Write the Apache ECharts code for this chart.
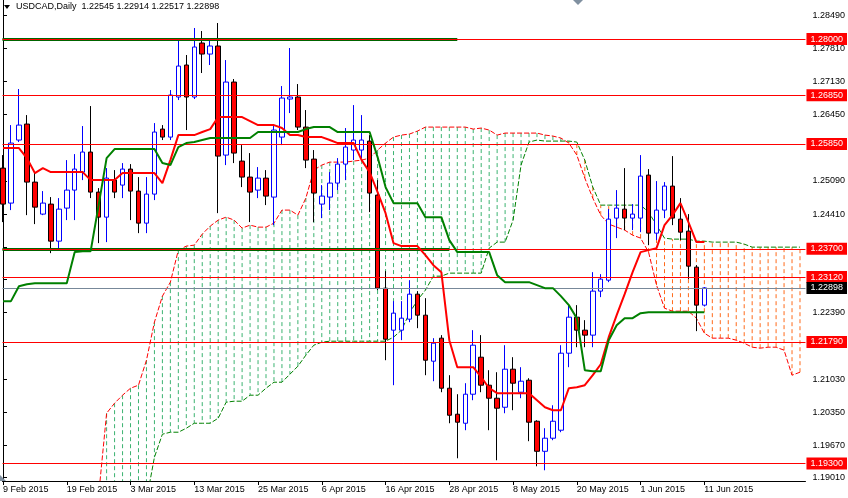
<!DOCTYPE html>
<html><head><meta charset="utf-8">
<script src="https://cdn.jsdelivr.net/npm/echarts@6/dist/echarts.min.js"></script>
<style>html,body{margin:0;padding:0;background:#fff}#c{width:848px;height:498px}</style>
</head><body><div id="c"></div>
<script>
const symbol = 'USDCAD', period = 'Daily';
const FONT = 'Liberation Sans';

const dates = [
'9 Feb 2015','10 Feb 2015','11 Feb 2015','12 Feb 2015','13 Feb 2015','16 Feb 2015','17 Feb 2015','18 Feb 2015','19 Feb 2015','20 Feb 2015',
'23 Feb 2015','24 Feb 2015','25 Feb 2015','26 Feb 2015','27 Feb 2015','2 Mar 2015','3 Mar 2015','4 Mar 2015','5 Mar 2015','6 Mar 2015',
'9 Mar 2015','10 Mar 2015','11 Mar 2015','12 Mar 2015','13 Mar 2015','16 Mar 2015','17 Mar 2015','18 Mar 2015','19 Mar 2015','20 Mar 2015',
'23 Mar 2015','24 Mar 2015','25 Mar 2015','26 Mar 2015','27 Mar 2015','30 Mar 2015','31 Mar 2015','1 Apr 2015','2 Apr 2015','3 Apr 2015',
'6 Apr 2015','7 Apr 2015','8 Apr 2015','9 Apr 2015','10 Apr 2015','13 Apr 2015','14 Apr 2015','15 Apr 2015','16 Apr 2015','17 Apr 2015',
'20 Apr 2015','21 Apr 2015','22 Apr 2015','23 Apr 2015','24 Apr 2015','27 Apr 2015','28 Apr 2015','29 Apr 2015','30 Apr 2015','1 May 2015',
'4 May 2015','5 May 2015','6 May 2015','7 May 2015','8 May 2015','11 May 2015','12 May 2015','13 May 2015','14 May 2015','15 May 2015',
'18 May 2015','19 May 2015','20 May 2015','21 May 2015','22 May 2015','25 May 2015','26 May 2015','27 May 2015','28 May 2015','29 May 2015',
'1 Jun 2015','2 Jun 2015','3 Jun 2015','4 Jun 2015','5 Jun 2015','8 Jun 2015','9 Jun 2015','10 Jun 2015','11 Jun 2015','12 Jun 2015',
'15 Jun 2015','16 Jun 2015','17 Jun 2015','18 Jun 2015','19 Jun 2015','22 Jun 2015','23 Jun 2015','24 Jun 2015','25 Jun 2015','26 Jun 2015',
'29 Jun 2015'];

const xTicks = [0,8,16,24,32,40,48,56,64,72,80,88];
const yTicks = [1.19010,1.19670,1.20350,1.21030,1.21710,1.22390,1.23070,1.23740,1.24410,1.25090,1.25770,1.26450,1.27130,1.27810,1.28490];

const open = [1.25354,1.24637,1.25929,1.26257,1.25067,1.24411,1.24616,1.23857,1.24534,1.24903,
1.25272,1.25683,1.24862,1.24349,1.25108,1.25006,1.25334,1.24883,1.24226,1.24821,
1.26154,1.25990,1.26811,1.27467,1.26811,1.27918,1.27692,1.27857,1.25621,1.27118,
1.25498,1.25170,1.24903,1.25149,1.24760,1.25990,1.26770,1.26811,1.26195,1.25539,
1.24616,1.24760,1.25047,1.25436,1.25724,1.25724,1.25908,1.24801,1.22893,1.22032,
1.22032,1.22257,1.22770,1.22339,1.21396,1.21868,1.20842,1.20309,1.20124,1.20719,
1.21478,1.20904,1.20637,1.20452,1.21232,1.20760,1.21006,1.20165,1.19549,1.19817,
1.19981,1.21560,1.22298,1.22032,1.21930,1.22832,1.23057,1.24329,1.24513,1.24329,
1.24329,1.25211,1.24021,1.24493,1.24985,1.24308,1.24062,1.23324,1.22545];
const high = [1.25621,1.26236,1.26975,1.26441,1.25272,1.24883,1.24760,1.24739,1.25518,1.25641,
1.26216,1.26626,1.24944,1.25354,1.25313,1.25457,1.25436,1.25170,1.25170,1.26277,
1.26236,1.26954,1.27980,1.27672,1.28226,1.28164,1.27959,1.28328,1.27569,1.27180,
1.25826,1.25662,1.25375,1.25313,1.26236,1.27036,1.27816,1.27077,1.26544,1.25724,
1.25006,1.25272,1.25559,1.26175,1.26646,1.26441,1.26031,1.25108,1.23242,1.22627,
1.22627,1.23057,1.22832,1.22688,1.21868,1.21930,1.21109,1.20719,1.20945,1.22032,
1.21930,1.21211,1.21170,1.21724,1.21478,1.21273,1.21047,1.20186,1.20022,1.20493,
1.21724,1.22545,1.22545,1.22237,1.23221,1.23180,1.24513,1.24903,1.25354,1.24616,
1.25621,1.25334,1.25088,1.25067,1.25600,1.24739,1.24411,1.23365,1.22914];
const low = [1.24247,1.24493,1.25888,1.24390,1.24206,1.24390,1.23611,1.23673,1.24288,1.24288,
1.25108,1.24739,1.23816,1.23837,1.24739,1.24739,1.24288,1.24021,1.24021,1.24698,
1.25929,1.25929,1.26749,1.26134,1.26770,1.27303,1.27467,1.24431,1.25416,1.25457,
1.24965,1.24247,1.24739,1.24596,1.24185,1.25826,1.26482,1.26134,1.25354,1.24247,
1.24329,1.24493,1.24903,1.25108,1.25518,1.25559,1.24452,1.22852,1.21416,1.20904,
1.21827,1.22196,1.22073,1.21109,1.20986,1.20760,1.20124,1.19406,1.19981,1.20596,
1.20760,1.19981,1.19365,1.20329,1.20391,1.20637,1.19756,1.19242,1.19160,1.19776,
1.19940,1.21273,1.21683,1.21683,1.21683,1.22709,1.23016,1.23919,1.24083,1.24083,
1.24041,1.23775,1.23878,1.24329,1.24185,1.23878,1.23078,1.22012,1.22517];
const close = [1.24616,1.25867,1.26236,1.25067,1.24554,1.24637,1.23857,1.24513,1.24903,1.25334,
1.25683,1.24862,1.24349,1.25149,1.24862,1.25334,1.24883,1.24226,1.24821,1.26093,
1.25990,1.26852,1.27446,1.26811,1.27836,1.27692,1.27857,1.25600,1.27118,1.25662,
1.25170,1.24862,1.25149,1.24780,1.26134,1.26790,1.26811,1.26195,1.25518,1.24842,
1.24780,1.25047,1.25436,1.25785,1.25929,1.25929,1.24842,1.22893,1.21847,1.22381,
1.22278,1.22770,1.22339,1.21416,1.21765,1.20842,1.20288,1.20145,1.20719,1.21724,
1.20904,1.20637,1.20432,1.21232,1.20945,1.20986,1.20145,1.19549,1.19817,1.20165,
1.21560,1.22298,1.22032,1.21930,1.22832,1.23078,1.24308,1.24534,1.24329,1.24411,
1.25190,1.24021,1.24493,1.24985,1.24329,1.24041,1.23344,1.22545,1.22898];

const tenkan = [1.25765,1.25765,1.25765,1.25559,1.25252,1.25354,1.25272,1.25272,1.25272,1.25272,
1.25272,1.25108,1.25108,1.25108,1.25108,1.25252,1.25252,1.25252,1.25252,1.25252,
1.25047,1.25518,1.26031,1.26031,1.26031,1.26093,1.26154,1.26400,1.26400,1.26400,
1.26400,1.26318,1.26236,1.26236,1.26236,1.26175,1.26031,1.26031,1.25990,1.25990,
1.25990,1.25929,1.25867,1.25867,1.25867,1.25518,1.25272,1.24862,1.24431,1.23816,
1.23755,1.23755,1.23755,1.23570,1.23365,1.23221,1.21827,1.21273,1.21273,1.21273,
1.21068,1.20842,1.20740,1.20740,1.20740,1.20740,1.20740,1.20596,1.20452,1.20391,
1.20391,1.20842,1.20863,1.20904,1.21109,1.21334,1.21888,1.22339,1.22770,1.23221,
1.23632,1.23673,1.23714,1.24185,1.24390,1.24636,1.24247,1.23837,1.23837];
const kijun = [1.22627,1.22627,1.22934,1.22975,1.22996,1.22996,1.22996,1.22996,1.22996,1.23632,
1.23652,1.23652,1.24595,1.25559,1.25744,1.25744,1.25744,1.25744,1.25744,1.25744,
1.25457,1.25416,1.25785,1.25867,1.25888,1.25929,1.25970,1.25970,1.25970,1.25970,
1.25970,1.25970,1.26093,1.26093,1.26093,1.26093,1.26093,1.26093,1.26154,1.26195,
1.26195,1.26195,1.26093,1.26093,1.26093,1.26093,1.26093,1.25580,1.24965,1.24636,
1.24636,1.24636,1.24636,1.24349,1.24349,1.24349,1.23878,1.23632,1.23632,1.23632,
1.23632,1.23632,1.23160,1.23016,1.23016,1.23016,1.23016,1.22955,1.22893,1.22893,
1.22729,1.22545,1.22278,1.21211,1.21191,1.21191,1.21827,1.22134,1.22278,1.22278,
1.22380,1.22401,1.22401,1.22401,1.22401,1.22401,1.22401,1.22401,1.22401];

// Senkou spans, starting at bar index spanStart
const spanStart = 12;
const spanA = [1.18648,1.20329,1.20535,1.20699,1.20842,1.20904,1.21416,1.22196,1.22729,1.23016,
1.23673,1.23755,1.23775,1.24001,1.24165,1.24288,1.24349,1.24288,1.24124,1.24185,
1.24144,1.24144,1.24226,1.24493,1.24493,1.24390,1.24739,1.25313,1.25416,1.25477,
1.25477,1.25477,1.25498,1.25518,1.25559,1.25724,1.25867,1.25990,1.26031,1.26052,
1.26113,1.26195,1.26195,1.26195,1.26195,1.26195,1.26195,1.26154,1.26175,1.26134,
1.26031,1.26072,1.26072,1.26072,1.26072,1.26072,1.26031,1.26011,1.25970,1.25867,
1.25621,1.25149,1.24739,1.24390,1.24206,1.24144,1.24083,1.23980,1.23919,1.23632,
1.22955,1.22483,1.22421,1.22421,1.22421,1.22278,1.21970,1.21868,1.21868,1.21868,
1.21827,1.21765,1.21683,1.21663,1.21683,1.21683,1.21622,1.21109,1.21170];
const spanB = [1.18000,1.18000,1.18000,1.18000,1.18000,1.18000,1.18545,1.19427,1.19899,1.19940,
1.19940,1.20022,1.20124,1.20124,1.20124,1.20227,1.20555,1.20576,1.20576,1.20699,
1.20699,1.20842,1.20965,1.20965,1.21129,1.21293,1.21519,1.21724,1.21786,1.21806,
1.21806,1.21806,1.21806,1.21806,1.21806,1.21806,1.21806,1.21888,1.22032,1.22381,
1.22647,1.22852,1.23139,1.23139,1.23201,1.23201,1.23201,1.23201,1.23201,1.23714,
1.23837,1.23837,1.24288,1.25416,1.25888,1.25929,1.25908,1.25908,1.25908,1.25908,
1.25888,1.25518,1.24965,1.24595,1.24595,1.24595,1.24595,1.24595,1.24595,1.24452,
1.24185,1.23919,1.23898,1.23898,1.23898,1.23857,1.23857,1.23837,1.23837,1.23837,
1.23837,1.23796,1.23734,1.23734,1.23734,1.23734,1.23734,1.23734,1.23734];

const levels = [1.28000, 1.26850, 1.25850, 1.23700, 1.23120, 1.21790, 1.19300];
const greenLevels = [1.28000, 1.23700];
const greenLevelEnds = [57, 56];

const last = close.length - 1;
const bid = close[last];

const candleData = open.map((o, i) => [i, o, close[i], low[i], high[i]]);
const tenkanData = tenkan.map((v, i) => [i, v]);
const kijunData = kijun.map((v, i) => [i, v]);
const spanAData = spanA.map((v, i) => [spanStart + i, v]);
const spanBData = spanB.map((v, i) => [spanStart + i, v]);
const cloudData = spanA.map((v, i) => [spanStart + i, v, spanB[i]]);

const levelLabel = (bg) => ({
  show: true, position: 'end', distance: 1, color: '#fff', backgroundColor: bg,
  padding: [2, 4, 1, 4], fontSize: 9, fontFamily: FONT
});

const markData = [];
greenLevels.forEach((v, i) => {
  markData.push([{ coord: [-0.0625, v], lineStyle: { color: '#006400', width: 3, type: 'solid' }, label: { show: false } },
                 { coord: [greenLevelEnds[i], v] }]);
});
levels.forEach(v => {
  markData.push({ yAxis: v, lineStyle: { color: '#ff0000', width: 1, type: 'solid' },
    label: Object.assign(levelLabel('#ff0000'), { formatter: v.toFixed(5) }) });
});
markData.push({ yAxis: bid, lineStyle: { color: '#778899', width: 1, type: 'solid' },
  label: Object.assign(levelLabel('#000000'), { formatter: bid.toFixed(5) }) });

const chart = echarts.init(document.getElementById('c'), null, { renderer: 'canvas' });
chart.setOption({
  animation: false,
  backgroundColor: '#ffffff',
  grid: { left: 0, top: 0, right: 42, bottom: 17, containLabel: false },
  xAxis: {
    type: 'value', min: -0.0625, max: 100.6875,
    splitLine: { show: false },
    axisLine: { onZero: false, lineStyle: { color: '#000', width: 1 } },
    axisTick: { show: true, customValues: xTicks, length: 4, lineStyle: { color: '#000' } },
    axisLabel: { customValues: xTicks, formatter: v => dates[v], align: 'left', margin: 4,
      fontSize: 9, fontFamily: FONT, color: '#000' }
  },
  yAxis: {
    type: 'value', position: 'right', min: 1.1894, max: 1.2880,
    splitLine: { show: false },
    axisLine: { show: true, lineStyle: { color: '#000', width: 1 } },
    axisTick: { show: true, customValues: yTicks, length: 4, lineStyle: { color: '#000' } },
    axisLabel: { customValues: yTicks, formatter: v => v.toFixed(5), margin: 7,
      fontSize: 9, fontFamily: FONT, color: '#000' }
  },
  series: [
    {
      type: 'custom', name: 'cloud', data: cloudData, clip: true, silent: true, z: 1,
      encode: { x: 0, y: [1, 2] },
      renderItem: (params, api) => {
        const k = api.value(0), a = api.value(1), b = api.value(2);
        const p1 = api.coord([k, a]), p2 = api.coord([k, b]);
        return { type: 'line', shape: { x1: p1[0], y1: p1[1], x2: p2[0], y2: p2[1] },
          style: { stroke: a >= b ? '#3cb371' : '#ff6a1a', lineWidth: 1, lineDash: [4, 3] } };
      }
    },
    { type: 'line', name: 'spanA', data: spanAData, showSymbol: false, symbol: 'none', z: 2,
      lineStyle: { color: '#ff0000', width: 1, type: [5, 2] }, silent: true },
    { type: 'line', name: 'spanB', data: spanBData, showSymbol: false, symbol: 'none', z: 2,
      lineStyle: { color: '#008000', width: 1, type: [5, 2] }, silent: true },
    { type: 'line', name: 'levels', data: [], z: 3, silent: true,
      markLine: { silent: true, precision: 5, symbol: ['none', 'none'], animation: false, data: markData } },
    {
      type: 'candlestick', name: symbol, data: candleData, z: 4, barWidth: 5,
      encode: { x: 0, y: [1, 2, 3, 4] },
      itemStyle: { color: '#ffffff', color0: '#ff0000', borderColor: '#0000ff', borderColor0: '#000000', borderWidth: 1 }
    },
    { type: 'line', name: 'tenkan', data: tenkanData, showSymbol: false, symbol: 'none', z: 5,
      lineStyle: { color: '#ff0000', width: 2 }, silent: true },
    { type: 'line', name: 'kijun', data: kijunData, showSymbol: false, symbol: 'none', z: 5,
      lineStyle: { color: '#008000', width: 2 }, silent: true }
  ],
  graphic: [
    { type: 'polygon', shape: { points: [[4, 5], [10, 5], [7, 9]] }, style: { fill: '#000' }, z: 10 },
    { type: 'text', left: 16, top: 2, z: 10,
      style: { text: symbol + ',' + period + '  ' + [open[last], high[last], low[last], close[last]].map(v => v.toFixed(5)).join(' '),
        font: '9px ' + FONT, fill: '#000' } },
    { type: 'polygon', shape: { points: [[573, 0], [583, 0], [578, 5]] }, style: { fill: '#8090a0' }, z: 10 },
    { type: 'polygon', shape: { points: [[0, 475], [6, 481], [0, 481]] }, style: { fill: '#8090a0' }, z: 10 }
  ]
});
</script>
</body></html>
